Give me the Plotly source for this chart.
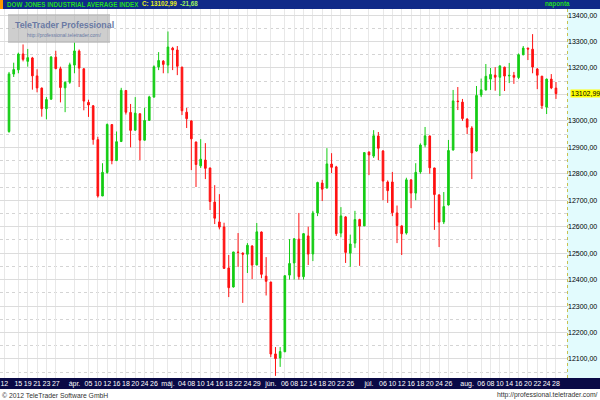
import plotly.graph_objects as go

# ---------------- data (DJIA daily, 2012-03-13 .. 2012-08-28) ----------------
dates = [
    "03-13", "03-14", "03-15", "03-16", "03-19", "03-20", "03-21", "03-22", "03-23", "03-26",
    "03-27", "03-28", "03-29", "03-30", "04-02", "04-03", "04-04", "04-05", "04-09", "04-10",
    "04-11", "04-12", "04-13", "04-16", "04-17", "04-18", "04-19", "04-20", "04-23", "04-24",
    "04-25", "04-26", "04-27", "04-30", "05-01", "05-02", "05-03", "05-04", "05-07", "05-08",
    "05-09", "05-10", "05-11", "05-14", "05-15", "05-16", "05-17", "05-18", "05-21", "05-22",
    "05-23", "05-24", "05-25", "05-29", "05-30", "05-31", "06-01", "06-04", "06-05", "06-06",
    "06-07", "06-08", "06-11", "06-12", "06-13", "06-14", "06-15", "06-18", "06-19", "06-20",
    "06-21", "06-22", "06-25", "06-26", "06-27", "06-28", "06-29", "07-02", "07-03", "07-05",
    "07-06", "07-09", "07-10", "07-11", "07-12", "07-13", "07-16", "07-17", "07-18", "07-19",
    "07-20", "07-23", "07-24", "07-25", "07-26", "07-27", "07-30", "07-31", "08-01", "08-02",
    "08-03", "08-06", "08-07", "08-08", "08-09", "08-10", "08-13", "08-14", "08-15", "08-16",
    "08-17", "08-20", "08-21", "08-22", "08-23", "08-24", "08-27", "08-28",
]
opens = [
    12960, 13177, 13193, 13253, 13225, 13238, 13170, 13124, 13046, 13082,
    13241, 13197, 13125, 13146, 13211, 13264, 13197, 13070, 13057, 12929,
    12716, 12805, 12986, 12850, 12922, 13115, 13032, 12965, 13027, 12927,
    13002, 13090, 13204, 13226, 13211, 13275, 13268, 13203, 13033, 13000,
    12920, 12830, 12852, 12822, 12693, 12618, 12599, 12444, 12372, 12504,
    12500, 12496, 12527, 12455, 12580, 12413, 12391, 12119, 12104, 12127,
    12417, 12463, 12553, 12411, 12565, 12497, 12652, 12765, 12746, 12837,
    12826, 12576, 12637, 12500, 12538, 12627, 12603, 12882, 12867, 12943,
    12886, 12769, 12769, 12652, 12603, 12576, 12777, 12727, 12807, 12909,
    12943, 12822, 12720, 12618, 12682, 12890, 13075, 13071, 13007, 12973,
    12886, 13098, 13117, 13158, 13173, 13165, 13203, 13170, 13172, 13164,
    13250, 13275, 13271, 13196, 13169, 13052, 13158, 13124,
]
highs = [
    13185, 13220, 13258, 13289, 13272, 13242, 13195, 13126, 13090, 13245,
    13265, 13205, 13150, 13220, 13296, 13270, 13198, 13080, 13060, 12940,
    12840, 12990, 12987, 12960, 13125, 13116, 13064, 13090, 13028, 13050,
    13095, 13210, 13260, 13230, 13338, 13280, 13283, 13205, 13049, 13002,
    12922, 12931, 12916, 12823, 12757, 12723, 12615, 12493, 12505, 12576,
    12503, 12538, 12530, 12614, 12582, 12485, 12391, 12145, 12145, 12415,
    12553, 12556, 12652, 12576, 12600, 12660, 12770, 12777, 12897, 12878,
    12830, 12674, 12640, 12570, 12660, 12630, 12882, 12885, 12965, 12958,
    12890, 12775, 12807, 12680, 12605, 12785, 12780, 12840, 12915, 12977,
    12945, 12823, 12723, 12731, 12928, 13117, 13128, 13083, 13010, 12980,
    13132, 13160, 13215, 13200, 13203, 13210, 13205, 13219, 13185, 13255,
    13283, 13277, 13328, 13200, 13170, 13160, 13177, 13147,
]
lows = [
    12955, 13166, 13180, 13225, 13205, 13118, 13108, 13016, 13006, 13080,
    13195, 13070, 13033, 13140, 13180, 13128, 13040, 13015, 12910, 12710,
    12716, 12800, 12836, 12848, 12920, 13024, 12900, 12963, 12852, 12926,
    13000, 13088, 13192, 13180, 13180, 13192, 13173, 13022, 12973, 12814,
    12750, 12822, 12780, 12663, 12610, 12590, 12440, 12334, 12370, 12448,
    12312, 12425, 12402, 12455, 12405, 12340, 12107, 12036, 12070, 12127,
    12400, 12400, 12400, 12400, 12455, 12470, 12640, 12697, 12745, 12803,
    12565, 12560, 12463, 12448, 12520, 12452, 12603, 12795, 12860, 12852,
    12700, 12690, 12640, 12538, 12493, 12570, 12670, 12700, 12800, 12900,
    12800, 12588, 12523, 12610, 12680, 12888, 13041, 13000, 12950, 12780,
    12884, 13090, 13115, 13117, 13114, 13094, 13113, 13143, 13140, 13158,
    13248, 13230, 13180, 13120, 13045, 13026, 13120, 13083,
]
closes = [
    13177.68, 13194.10, 13252.76, 13232.62, 13239.13, 13170.19, 13124.62, 13046.14, 13080.73, 13241.63,
    13197.73, 13126.21, 13145.82, 13212.04, 13264.49, 13199.55, 13074.75, 13060.14, 12929.59, 12715.93,
    12805.39, 12986.58, 12849.59, 12921.41, 13115.54, 13032.75, 12964.10, 13029.26, 12927.17, 13001.56,
    13090.72, 13204.62, 13228.31, 13213.63, 13279.32, 13268.57, 13206.59, 13038.27, 13008.53, 12932.09,
    12835.06, 12855.04, 12820.60, 12695.35, 12632.00, 12598.55, 12442.49, 12369.38, 12504.48, 12502.81,
    12496.15, 12529.75, 12454.83, 12580.69, 12419.86, 12393.45, 12118.57, 12101.46, 12127.95, 12414.79,
    12460.96, 12554.20, 12411.23, 12573.80, 12496.38, 12651.91, 12767.17, 12741.82, 12837.33, 12824.39,
    12573.57, 12640.78, 12502.66, 12534.67, 12627.01, 12602.26, 12880.09, 12871.39, 12943.82, 12896.67,
    12772.47, 12736.29, 12653.12, 12604.53, 12573.27, 12777.09, 12727.21, 12805.54, 12908.70, 12943.36,
    12822.57, 12721.46, 12617.32, 12676.05, 12887.93, 13075.66, 13073.01, 13008.68, 12976.13, 12878.88,
    13096.17, 13117.51, 13168.60, 13175.64, 13165.19, 13207.95, 13169.43, 13172.14, 13164.78, 13250.11,
    13275.20, 13271.64, 13203.58, 13172.76, 13057.46, 13157.97, 13124.67, 13102.99,
]

# x tick labels (trading-day position, label)
tick_pos = [-1, 2, 4, 6, 8, 10, 14, 17, 19, 21, 23, 25, 27, 29, 31, 34, 37, 39, 41, 43, 45, 47, 49,
            51, 53, 56, 59, 61, 63, 65, 67, 69, 71, 73, 77, 80, 82, 84, 86, 88, 90, 92, 94, 98,
            101, 103, 105, 107, 109, 111, 113, 115, 117]
tick_labels = ["12", "15", "19", "21", "23", "27", "ápr.", "05", "10", "12", "16", "18", "20", "24",
               "26", "máj.", "04", "08", "10", "14", "16", "18", "22", "24", "29", "jún.", "06", "08",
               "12", "14", "18", "20", "22", "26", "júl.", "06", "10", "12", "16", "18", "20", "24",
               "26", "aug.", "06", "08", "10", "14", "16", "20", "22", "24", "28"]

y_ticks = [12100, 12200, 12300, 12400, 12500, 12600, 12700, 12800, 12900,
           13000, 13100, 13200, 13300, 13400]
y_minor = [12050, 12150, 12250, 12350, 12450, 12550, 12650, 12750, 12850,
           12950, 13050, 13150, 13250, 13350]
last_close = 13102.99
last_change = -21.68

# ---------------- figure ----------------
W, H = 600, 400
px_x = lambda p: p / W
px_y = lambda p: (H - p) / H

x_index = list(range(len(dates)))
GREEN = "#14cc14"
RED = "#ff1010"
FONT = "Liberation Sans, Arial"

fig = go.Figure()
fig.add_trace(go.Candlestick(
    x=x_index, open=opens, high=highs, low=lows, close=closes,
    increasing=dict(line=dict(color=GREEN, width=1), fillcolor=GREEN),
    decreasing=dict(line=dict(color=RED, width=1), fillcolor=RED),
    whiskerwidth=0, hoverinfo="skip", showlegend=False,
))

def hu(v):
    return f"{v:.2f}".replace(".", ",")

# the 13100 label is covered by the last-price tag in the original
y_text = ["" if abs(v - last_close) < 50 else hu(v) for v in y_ticks]

fig.update_layout(
    width=W, height=H,
    margin=dict(l=0, r=0, t=0, b=0),
    paper_bgcolor="white", plot_bgcolor="white",
    boxgap=0.5,
    showlegend=False,
    xaxis=dict(
        domain=[0, px_x(567)],
        range=[-1.93, 119.36],
        rangeslider=dict(visible=False),
        tickmode="array", tickvals=tick_pos, ticktext=tick_labels,
        tickangle=0,
        showgrid=True, gridcolor="#e8e8e8", gridwidth=1,
        ticks="", ticklen=0,
        tickfont=dict(family=FONT, size=7, color="white"),
        zeroline=False, showline=False, fixedrange=True,
    ),
    yaxis=dict(
        domain=[px_y(378), px_y(9)],
        range=[12028, 13423],
        side="right",
        tickmode="array", tickvals=y_ticks, ticktext=y_text,
        showgrid=True, gridcolor="#dcdcdc", gridwidth=1,
        minor=dict(tickvals=y_minor, showgrid=True, gridcolor="#d4d4d4", griddash="dot", ticks=""),
        ticks="", ticklen=0,
        tickfont=dict(family=FONT, size=7, color="black"),
        zeroline=False, showline=False, fixedrange=True,
    ),
)

shapes = [
    # header bar
    dict(type="rect", xref="paper", yref="paper", x0=0, x1=1, y0=px_y(9), y1=1,
         fillcolor="#102a88", line=dict(width=0), layer="below"),
    dict(type="rect", xref="paper", yref="paper", x0=0, x1=px_x(3), y0=px_y(9), y1=1,
         fillcolor="#ff9900", line=dict(width=0), layer="below"),
    # right price panel
    dict(type="rect", xref="paper", yref="paper", x0=px_x(567), x1=1, y0=px_y(378), y1=px_y(9),
         fillcolor="#e2fbfd", line=dict(width=0), layer="below"),
    dict(type="line", xref="paper", yref="paper", x0=px_x(567.5), x1=px_x(567.5),
         y0=px_y(378), y1=px_y(9), line=dict(color="#c8c050", width=1, dash="dot")),
    # bottom date bar
    dict(type="rect", xref="paper", yref="paper", x0=0, x1=1, y0=px_y(389), y1=px_y(378),
         fillcolor="#0a0a46", line=dict(width=0), layer="below"),
    # watermark box
    dict(type="rect", xref="paper", yref="paper", x0=px_x(8), x1=px_x(110),
         y0=px_y(43), y1=px_y(14), fillcolor="rgba(165,165,165,0.55)",
         line=dict(width=0), layer="above"),
]
fig.update_layout(shapes=shapes)

hdr_y = px_y(4.5)
ann = [
    dict(text="DOW JONES INDUSTRIAL AVERAGE INDEX", x=px_x(5), y=hdr_y,
         font=dict(family=FONT, size=6.3, color="#22dd22", weight="bold")),
    dict(text="C: " + hu(last_close), x=px_x(140), y=hdr_y,
         font=dict(family=FONT, size=6.3, color="#e8f020", weight="bold")),
    dict(text=hu(last_change), x=px_x(178), y=hdr_y,
         font=dict(family=FONT, size=6.3, color="#9ef060", weight="bold")),
    dict(text="naponta", x=px_x(543), y=hdr_y,
         font=dict(family=FONT, size=6.3, color="#22dd22", weight="bold")),
    dict(text="TeleTrader Professional", x=px_x(13), y=px_y(25),
         font=dict(family=FONT, size=8.8, color="#6a7aa4", weight="bold")),
    dict(text="http://professional.teletrader.com/", x=px_x(25), y=px_y(35),
         font=dict(family=FONT, size=5, color="#6a7aa4")),
    dict(text="© 2012 TeleTrader Software GmbH", x=px_x(0), y=px_y(395),
         font=dict(family=FONT, size=6.8, color="#333333")),
    dict(text="http://professional.teletrader.com/", x=1, y=px_y(395), xanchor="right",
         font=dict(family=FONT, size=6.8, color="#333333")),
]
for a in ann:
    a.setdefault("xanchor", "left")
    a.update(xref="paper", yref="paper", yanchor="middle", showarrow=False)
    fig.add_annotation(**a)

# last price tag on the right axis
fig.add_annotation(text=hu(last_close), xref="paper", yref="y", x=px_x(570), y=last_close,
                   xanchor="left", yanchor="middle", showarrow=False, bgcolor="#ffff00",
                   borderpad=0,
                   font=dict(family=FONT, size=7, color="black"))

fig.write_html("out.html", config={"displayModeBar": False},
               post_script="document.body.style.margin='0';")
